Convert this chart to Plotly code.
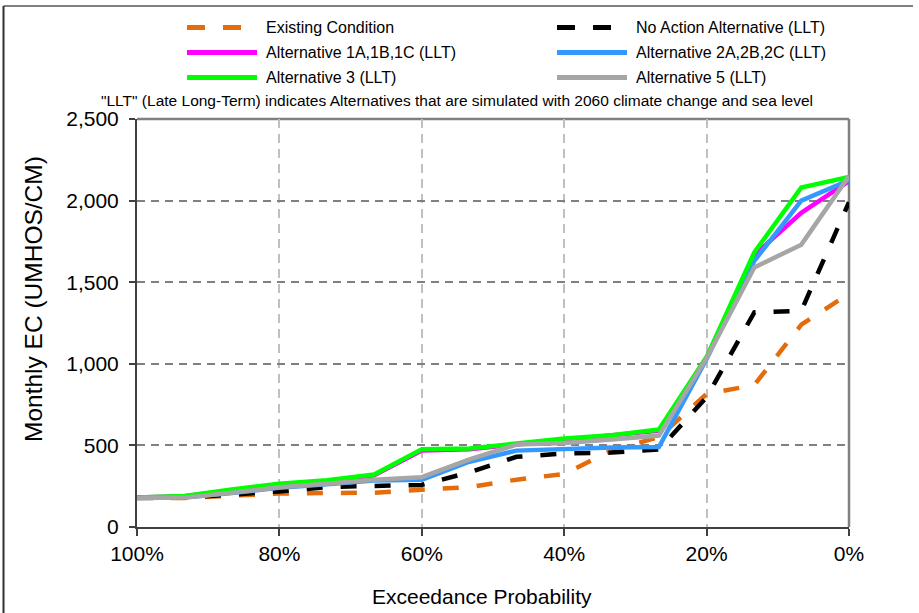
import plotly.graph_objects as go

# Exceedance probability (%) for each ranked monthly value
exceedance = [100, 93.3, 86.7, 80, 73.3, 66.7, 60, 53.3, 46.7, 40, 33.3, 26.7, 20, 13.3, 6.7, 0]

# Monthly EC (UMHOS/CM)
existing_condition = [178, 178, 192, 205, 208, 210, 228, 245, 290, 325, 470, 550, 815, 870, 1240, 1430]
no_action_llt = [180, 181, 198, 218, 245, 254, 258, 335, 430, 450, 456, 475, 795, 1315, 1325, 1990]
alt_1abc_llt = [180, 189, 226, 260, 282, 316, 468, 476, 506, 536, 565, 590, 1038, 1665, 1925, 2120]
alt_2abc_llt = [178, 180, 208, 240, 262, 285, 290, 400, 468, 480, 487, 490, 1030, 1630, 2000, 2125]
alt_3_llt = [180, 190, 230, 265, 287, 322, 476, 481, 512, 542, 562, 597, 1041, 1683, 2080, 2145]
alt_5_llt = [178, 180, 210, 243, 265, 290, 305, 414, 505, 515, 536, 560, 1035, 1590, 1730, 2150]

x_ticks = [100, 80, 60, 40, 20, 0]
y_ticks = [0, 500, 1000, 1500, 2000, 2500]

series = [
    ("Existing Condition", existing_condition, "#E46C0A", "dash"),
    ("No Action Alternative (LLT)", no_action_llt, "#000000", "dash"),
    ("Alternative 1A,1B,1C (LLT)", alt_1abc_llt, "#FF00FF", "solid"),
    ("Alternative 2A,2B,2C (LLT)", alt_2abc_llt, "#3399FF", "solid"),
    ("Alternative 3 (LLT)", alt_3_llt, "#00FF00", "solid"),
    ("Alternative 5 (LLT)", alt_5_llt, "#A6A6A6", "solid"),
]

FONT = "Liberation Sans, Arial, Helvetica, sans-serif"
W, H = 919, 613
ML, MR, MT, MB = 137, 70, 119, 86
PW, PH = W - ML - MR, H - MT - MB


def px_x(px):
    return (px - ML) / PW


def px_y(py):
    return (H - MB - py) / PH


fig = go.Figure()
for name, vals, color, dash in series:
    fig.add_trace(go.Scatter(
        x=exceedance, y=vals, mode="lines", name=name, showlegend=False,
        line=dict(color=color, width=4.5, dash="16px,18px" if dash == "dash" else "solid"),
    ))

shapes = []
annotations = []

# Two-column key above the plot
key_cols = [(187, 264), (557, 634)]
key_rows = [27.5, 52.5, 77.5]
for i, (name, vals, color, dash) in enumerate(series):
    col = key_cols[i % 2]
    row = key_rows[i // 2]
    x0 = col[0]
    x1 = x0 + 55 if dash == "dash" else x0 + 70
    shapes.append(dict(
        type="line", xref="paper", yref="paper",
        x0=px_x(x0), x1=px_x(x1), y0=px_y(row), y1=px_y(row),
        line=dict(color=color, width=5, dash="18px,18px" if dash == "dash" else "solid"),
    ))
    annotations.append(dict(
        text=name, xref="paper", yref="paper", x=px_x(col[1]), y=px_y(row),
        xanchor="left", yanchor="middle", showarrow=False,
        font=dict(family=FONT, size=16, color="#000000"),
    ))

annotations.append(dict(
    text='"LLT" (Late Long-Term) indicates Alternatives that are simulated with 2060 climate change and sea level',
    xref="paper", yref="paper", x=px_x(457), y=px_y(101),
    xanchor="center", yanchor="middle", showarrow=False,
    font=dict(family=FONT, size=15.5, color="#000000"),
))

# Axis titles
annotations.append(dict(
    text="Exceedance Probability", xref="paper", yref="paper",
    x=px_x(482), y=px_y(596), xanchor="center", yanchor="middle", showarrow=False,
    font=dict(family=FONT, size=21, color="#000000"),
))
annotations.append(dict(
    text="Monthly EC (UMHOS/CM)", xref="paper", yref="paper",
    x=px_x(33), y=px_y(299), xanchor="center", yanchor="middle", showarrow=False,
    textangle=-90, font=dict(family=FONT, size=24.5, color="#000000"),
))

# Plot frame: grey top and right edges
shapes.append(dict(type="line", xref="paper", yref="paper", x0=0, x1=1, y0=1, y1=1,
                   line=dict(color="#808080", width=2.5), layer="between"))
shapes.append(dict(type="line", xref="paper", yref="paper", x0=1, x1=1, y0=0, y1=1,
                   line=dict(color="#808080", width=2.5), layer="between"))

# Outer chart border
shapes.append(dict(type="line", xref="paper", yref="paper",
                   x0=px_x(3.5), x1=px_x(913), y0=px_y(6), y1=px_y(6),
                   line=dict(color="#808080", width=2)))
shapes.append(dict(type="line", xref="paper", yref="paper",
                   x0=px_x(3.5), x1=px_x(3.5), y0=px_y(6), y1=px_y(613),
                   line=dict(color="#303030", width=2)))

fig.update_layout(
    width=W, height=H,
    margin=dict(l=ML, r=MR, t=MT, b=MB, pad=0),
    paper_bgcolor="#FFFFFF", plot_bgcolor="#FFFFFF",
    font=dict(family=FONT, color="#000000"),
    shapes=shapes, annotations=annotations,
    showlegend=False,
)

fig.update_xaxes(
    range=[100, 0], tickvals=x_ticks, ticktext=[f"{v}%" for v in x_ticks],
    showgrid=True, gridcolor="#C0C0C0", gridwidth=2, griddash="9px,6px",
    showline=True, linecolor="#404040", linewidth=2,
    ticks="outside", ticklen=7, tickwidth=1.5, tickcolor="#404040",
    tickfont=dict(family=FONT, size=21, color="#000000"),
    zeroline=False,
)
fig.update_yaxes(
    range=[0, 2500], tickvals=y_ticks, tickformat=",",
    showgrid=True, gridcolor="#808080", gridwidth=2, griddash="8px,6px",
    showline=True, linecolor="#404040", linewidth=2,
    ticks="outside", ticklen=6, tickwidth=1.5, tickcolor="#404040",
    tickfont=dict(family=FONT, size=21, color="#000000"),
    ticklabelstandoff=6,
    zeroline=False,
)

fig.write_html("out.html")
